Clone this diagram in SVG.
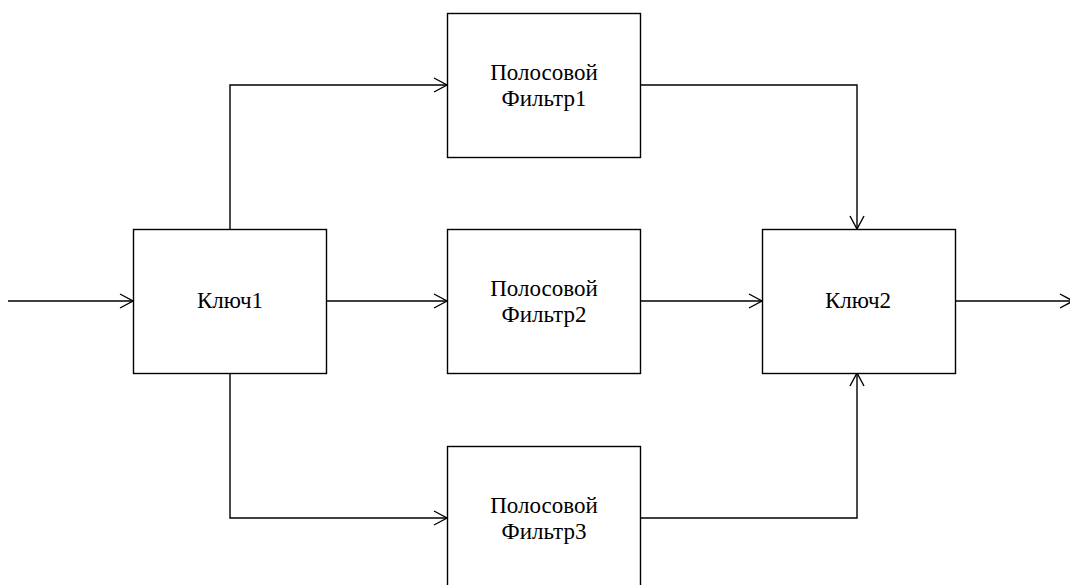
<svg xmlns="http://www.w3.org/2000/svg" width="1070" height="585" viewBox="0 0 1070 585">
<style>
.box{fill:#fff;stroke:#000;stroke-width:1.4}
.ln{fill:none;stroke:#000;stroke-width:1.4}
text{font-family:"Liberation Serif","Times New Roman",serif;font-size:23px;fill:#000;text-anchor:middle}
</style>
<defs>
<marker id="a" markerUnits="userSpaceOnUse" markerWidth="16" markerHeight="18" refX="13" refY="7" orient="auto" overflow="visible">
<path d="M0,0 L13,7 L0,14" fill="none" stroke="#000" stroke-width="1.4"/>
</marker>
</defs>
<g id="connectors">
<path class="ln" d="M8,301 H133" marker-end="url(#a)"/>
<path class="ln" d="M230,229 V85 H447" marker-end="url(#a)"/>
<path class="ln" d="M326,301 H447" marker-end="url(#a)"/>
<path class="ln" d="M230,373 V518 H447" marker-end="url(#a)"/>
<path class="ln" d="M640,85 H857 V229" marker-end="url(#a)"/>
<path class="ln" d="M640,301 H762" marker-end="url(#a)"/>
<path class="ln" d="M640,518 H857 V373" marker-end="url(#a)"/>
<path class="ln" d="M955,301 H1073" marker-end="url(#a)"/>
</g>
<g id="key1"><rect class="box" x="133.5" y="229.5" width="193" height="144"/><text x="230" y="308">Ключ1</text></g>
<g id="filter1"><rect class="box" x="447.5" y="13.5" width="193" height="144"/><text x="544" y="80">Полосовой</text><text x="544" y="106">Фильтр1</text></g>
<g id="filter2"><rect class="box" x="447.5" y="229.5" width="193" height="144"/><text x="544" y="296">Полосовой</text><text x="544" y="322">Фильтр2</text></g>
<g id="filter3"><rect class="box" x="447.5" y="446.5" width="193" height="144"/><text x="544" y="513">Полосовой</text><text x="544" y="539">Фильтр3</text></g>
<g id="key2"><rect class="box" x="762.5" y="229.5" width="193" height="144"/><text x="858" y="308">Ключ2</text></g>
</svg>
